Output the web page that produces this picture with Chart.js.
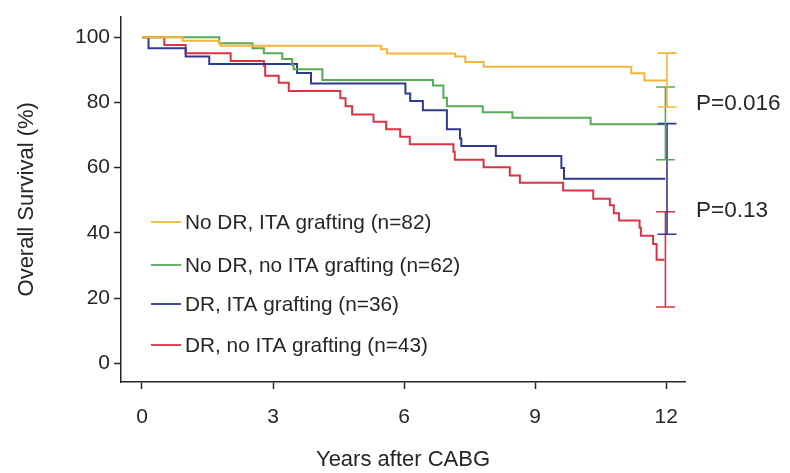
<!DOCTYPE html>
<html>
<head>
<meta charset="utf-8">
<script src="https://cdn.jsdelivr.net/npm/chart.js@4.4.1/dist/chart.umd.min.js"></script>
<style>
  html, body { margin: 0; padding: 0; background: #fff; }
</style>
</head>
<body>
<canvas id="km" width="790" height="473"></canvas>
<script>
// groups (legend order)
const groupLabels = [
  'No DR, ITA grafting (n=82)',
  'No DR, no ITA grafting (n=62)',
  'DR, ITA grafting (n=36)',
  'DR, no ITA grafting (n=43)'
];
const groupColors = ['#F4B53F', '#57AA57', '#2F3A8E', '#DB3343'];

// Kaplan-Meier steps (years, survival %)
const yellowTimes = [0, 0.93, 1.77, 1.80, 5.47, 5.61, 7.17, 7.40, 7.82, 11.20, 11.50, 12];
const yellowSurv  = [100, 98.9, 97.9, 97.4, 96.3, 95.0, 94.1, 92.4, 90.9, 88.9, 86.7, 86.7];

const greenTimes = [0, 1.77, 2.53, 2.79, 3.21, 3.44, 3.47, 4.13, 6.66, 6.90, 6.98, 7.80, 8.48, 10.27, 11.98];
const greenSurv  = [100, 98.1, 96.6, 95.1, 93.3, 91.5, 90.2, 86.9, 85.2, 81.4, 78.8, 77.0, 75.3, 73.3, 73.3];

const blueTimes = [0, 0.15, 1.00, 1.54, 3.55, 3.87, 6.03, 6.14, 6.43, 6.98, 7.28, 7.31, 8.10, 9.60, 9.66, 11.98];
const blueSurv  = [100, 96.6, 94.1, 91.8, 89.0, 85.8, 82.7, 80.4, 77.6, 71.8, 68.9, 66.6, 63.6, 59.9, 56.6, 56.6];

const redTimes = [0, 0.51, 1.00, 2.03, 2.79, 2.82, 3.13, 3.36, 4.54, 4.66, 4.81, 5.30, 5.59, 5.91, 6.13,
                  7.13, 7.16, 7.82, 8.42, 8.65, 9.64, 10.33, 10.71, 10.80, 10.92, 11.39, 11.42, 11.70, 11.78, 11.96];
const redSurv  = [100, 97.6, 95.1, 92.7, 91.2, 88.2, 86.0, 83.5, 81.3, 78.8, 76.3, 74.1, 71.8, 69.5, 67.2,
                  64.9, 62.4, 60.1, 57.6, 55.4, 53.0, 50.5, 48.5, 46.0, 43.8, 41.6, 39.1, 36.6, 31.8, 31.8];

// 12-year confidence bars
const ciTime  = 12;
const ciUpper = [95.1, 84.7, 73.5, 46.5];
const ciLower = [78.6, 62.4, 39.6, 17.3];

const pLabels = ['P=0.016', 'P=0.13'];
const pValuesY = [79.5, 46.7]; // where the P texts sit on the y scale

const xTicks = [0, 3, 6, 9, 12];
const yTicks = [0, 20, 40, 60, 80, 100];

const FONT = "'Liberation Sans', Arial, Helvetica, sans-serif";
const INK = '#262626';

function toPoints(times, surv) {
  return times.map((t, i) => ({ x: t, y: surv[i] }));
}
const seriesPoints = [
  toPoints(yellowTimes, yellowSurv),
  toPoints(greenTimes, greenSurv),
  toPoints(blueTimes, blueSurv),
  toPoints(redTimes, redSurv)
];

// error bars, legend and P values
const extras = {
  id: 'extras',
  afterDatasetsDraw(chart) {
    const ctx = chart.ctx;
    const xs = chart.scales.x, ys = chart.scales.y;
    ctx.save();
    ctx.lineWidth = 1.6;
    const order = [3, 2, 1, 0];
    const nudge = [0.8, -0.8, 0.8, -0.8];
    for (const i of order) {
      const x = xs.getPixelForValue(ciTime) + nudge[i];
      const top = ys.getPixelForValue(ciUpper[i]);
      const bot = ys.getPixelForValue(ciLower[i]);
      ctx.strokeStyle = groupColors[i];
      ctx.beginPath();
      ctx.moveTo(x, top); ctx.lineTo(x, bot);
      ctx.moveTo(x - 9.5, top); ctx.lineTo(x + 9.5, top);
      ctx.moveTo(x - 9.5, bot); ctx.lineTo(x + 9.5, bot);
      ctx.stroke();
    }

    // legend inside plot
    ctx.font = '20.8px ' + FONT;
    ctx.textBaseline = 'middle';
    ctx.textAlign = 'left';
    const legY = [222, 265, 304, 345];
    for (let i = 0; i < groupLabels.length; i++) {
      ctx.strokeStyle = groupColors[i];
      ctx.lineWidth = 1.8;
      ctx.beginPath();
      ctx.moveTo(151, legY[i]);
      ctx.lineTo(181, legY[i]);
      ctx.stroke();
      ctx.fillStyle = INK;
      ctx.fillText(groupLabels[i], 185, legY[i] + 1);
    }

    // P values
    ctx.font = '22.5px ' + FONT;
    ctx.fillStyle = INK;
    for (let i = 0; i < pLabels.length; i++) {
      ctx.fillText(pLabels[i], 696, ys.getPixelForValue(pValuesY[i]));
    }
    ctx.restore();
  }
};

const ctx = document.getElementById('km').getContext('2d');
new Chart(ctx, {
  type: 'line',
  data: {
    datasets: groupLabels.map((lab, i) => ({
      label: lab,
      data: seriesPoints[i],
      borderColor: groupColors[i],
      borderWidth: 2,
      pointRadius: 0,
      stepped: true,
      fill: false
    }))
  },
  options: {
    responsive: false,
    animation: false,
    layout: { padding: { left: 0, right: 105, top: 7, bottom: 0 } },
    plugins: {
      legend: { display: false },
      tooltip: { enabled: false }
    },
    scales: {
      x: {
        type: 'linear',
        min: -0.48,
        max: 12.43,
        afterBuildTicks: s => { s.ticks = xTicks.map(v => ({ value: v })); },
        afterFit: s => { s.height = 91; },
        grid: { drawOnChartArea: false, drawTicks: true, tickLength: 7, tickColor: INK, tickWidth: 1.5 },
        border: { display: true, color: INK, width: 1.5 },
        ticks: { color: INK, font: { family: FONT, size: 21 }, padding: 16, maxRotation: 0 },
        title: { display: true, text: 'Years after CABG', color: INK, font: { family: FONT, size: 22 }, padding: { top: 0, bottom: 0 } }
      },
      y: {
        min: -5.7,
        max: 106.3,
        afterBuildTicks: s => { s.ticks = yTicks.map(v => ({ value: v })); },
        afterFit: s => { s.width = 121; },
        grid: { drawOnChartArea: false, drawTicks: true, tickLength: 7, tickColor: INK, tickWidth: 1.5 },
        border: { display: true, color: INK, width: 1.5 },
        ticks: { color: INK, font: { family: FONT, size: 21 }, padding: 4 },
        title: { display: true, text: 'Overall Survival (%)', color: INK, font: { family: FONT, size: 22 }, padding: { top: 14, bottom: 0 } }
      }
    }
  },
  plugins: [extras]
});
</script>
</body>
</html>
